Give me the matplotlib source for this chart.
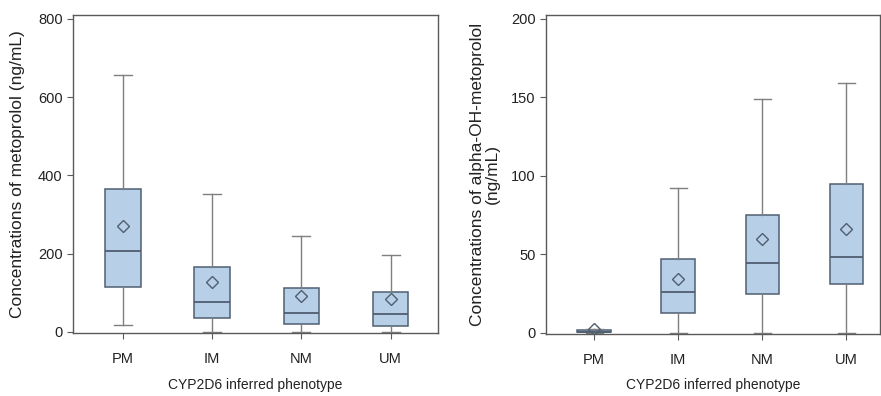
import matplotlib
matplotlib.use("Agg")
import matplotlib.pyplot as plt

plt.rcParams['font.family'] = ['Liberation Sans', 'DejaVu Sans']

phenotypes = ['PM', 'IM', 'NM', 'UM']

# metoprolol (ng/mL): low whisker, Q1, median, Q3, high whisker, mean
meto_low = [17, 0, 0, 0]
meto_q1 = [115, 35, 21, 14]
meto_med = [208, 76, 49, 45]
meto_q3 = [365, 165, 111, 102]
meto_high = [657, 353, 245, 197]
meto_mean = [271, 128, 91, 85]

# alpha-OH-metoprolol (ng/mL)
aoh_low = [0, 0, 0, 0]
aoh_q1 = [0.2, 12.3, 24.8, 31]
aoh_med = [0.6, 25.7, 44.2, 48]
aoh_q3 = [1.6, 46.7, 75, 94.7]
aoh_high = [2.5, 92.4, 148.8, 159.4]
aoh_mean = [2.5, 34, 59.7, 65.8]

box_face = '#b8cfe8'
box_edge = '#4f5f70'
whisk_col = '#7f7f7f'
spine_col = '#5a5a5a'


def make_stats(low, q1, med, q3, high, mean):
    stats = []
    for i, name in enumerate(phenotypes):
        stats.append({'label': name, 'whislo': low[i], 'q1': q1[i], 'med': med[i],
                      'q3': q3[i], 'whishi': high[i], 'mean': mean[i], 'fliers': []})
    return stats


def draw_panel(ax, stats, ylim, yticks, ylabel, xlim, label_x):
    ax.bxp(stats, positions=range(1, 5), widths=0.4, patch_artist=True,
           showmeans=True, showfliers=False,
           boxprops=dict(facecolor=box_face, edgecolor=box_edge, linewidth=1.1),
           medianprops=dict(color=box_edge, linewidth=1.3),
           whiskerprops=dict(color=whisk_col, linewidth=1.0),
           capprops=dict(color=whisk_col, linewidth=1.0),
           meanprops=dict(marker='D', markersize=6, markerfacecolor='none',
                          markeredgecolor=box_edge, markeredgewidth=1.0),
           capwidths=0.2)
    ax.set_ylim(*ylim)
    ax.set_xlim(*xlim)
    ax.set_yticks(yticks)
    ax.set_xticks(range(1, 5))
    ax.set_xticklabels(phenotypes)
    ax.tick_params(axis='both', direction='out', length=4, color=spine_col,
                   labelsize=10.5, labelcolor='#222222')
    ax.tick_params(axis='x', pad=10)
    for s in ax.spines.values():
        s.set_color(spine_col)
        s.set_linewidth(1.0)
    ax.set_xlabel('CYP2D6 inferred phenotype', fontsize=10, color='#222222', labelpad=8)
    ax.set_ylabel(ylabel, fontsize=12.5, color='#222222', linespacing=1.0)
    ax.yaxis.set_label_coords(label_x, 0.5)


fig = plt.figure(figsize=(8.81, 3.96), dpi=100)
ax1 = fig.add_axes([0.083, 0.159, 0.414, 0.803])
ax2 = fig.add_axes([0.620, 0.157, 0.379, 0.805])

draw_panel(ax1, make_stats(meto_low, meto_q1, meto_med, meto_q3, meto_high, meto_mean),
           (-3, 810), [0, 200, 400, 600, 800],
           'Concentrations of metoprolol (ng/mL)', (0.44, 4.53), -0.132)
draw_panel(ax2, make_stats(aoh_low, aoh_q1, aoh_med, aoh_q3, aoh_high, aoh_mean),
           (-0.8, 202.5), [0, 50, 100, 150, 200],
           'Concentrations of alpha-OH-metoprolol\n(ng/mL)', (0.43, 4.4), -0.138)

fig.savefig('out.png', dpi=100)
